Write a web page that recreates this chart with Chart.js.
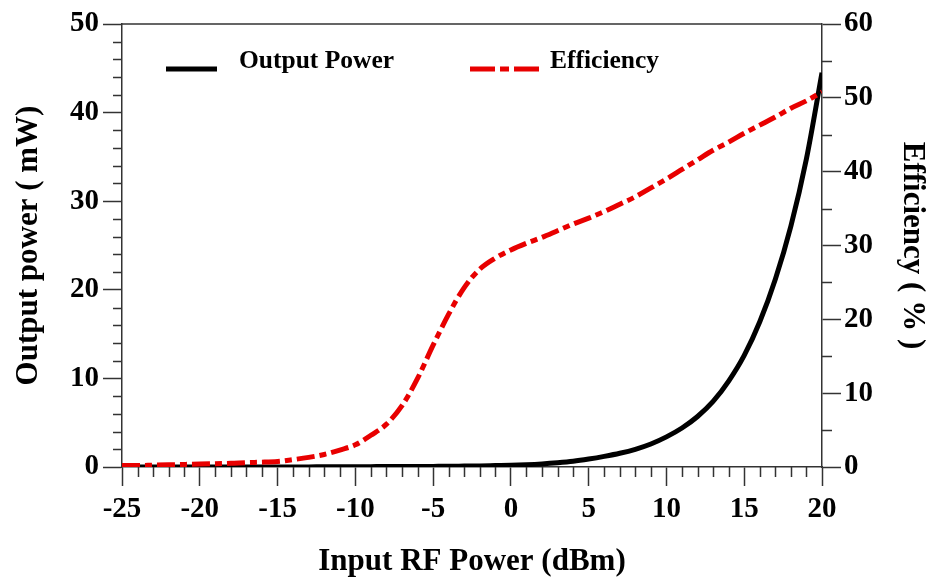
<!DOCTYPE html>
<html>
<head>
<meta charset="utf-8">
<title>Output Power / Efficiency vs Input RF Power</title>
<script src="https://cdn.jsdelivr.net/npm/chart.js@4.4.1/dist/chart.umd.min.js"></script>
<style>
  html, body { margin: 0; padding: 0; background: #fff; }
  #wrap { width: 934px; height: 577px; position: relative; }
</style>
</head>
<body>
<div id="wrap"><canvas id="powerChart"></canvas></div>
<script>
// input sweep (dBm)
const inputPower = [-25, -24, -23, -22, -21, -20, -19, -18, -17, -16, -15, -14, -13, -12, -11, -10,
  -9, -8, -7, -6, -5, -4, -3, -2, -1, 0, 1, 2, 3, 4, 5, 6, 7, 8, 9, 10,
  11, 12, 13, 14, 15, 16, 17, 18, 19, 20];

// output power (mW)
const outputPower = [0, 0, 0, 0, 0, 0, 0, 0, 0, 0, 0.01, 0.01, 0.01, 0.02, 0.02, 0.03,
  0.04, 0.05, 0.05, 0.06, 0.07, 0.08, 0.1, 0.12, 0.16, 0.2, 0.26, 0.35, 0.48, 0.65, 0.9, 1.2, 1.55, 2.0, 2.6, 3.4,
  4.4, 5.7, 7.4, 9.7, 12.6, 16.4, 21.2, 27.2, 34.8, 44.5];

// drain efficiency (%)
const efficiency = [0.2, 0.2, 0.25, 0.3, 0.35, 0.4, 0.45, 0.5, 0.6, 0.65, 0.75, 1.0, 1.3, 1.7, 2.3, 3.0,
  4.3, 5.8, 8.3, 12.0, 16.5, 20.7, 24.3, 26.8, 28.3, 29.4, 30.3, 31.1, 32.0, 32.9, 33.7, 34.6, 35.6, 36.6, 37.8, 39.0,
  40.3, 41.6, 42.9, 44.0, 45.2, 46.3, 47.4, 48.6, 49.6, 50.8];

const xTicks = [-25, 20, 5];
const powerTicks = [0, 50, 10];
const effTicks = [0, 60, 10];

const SERIF = '"Liberation Serif", "Times New Roman", serif';
const RED = 'rgb(232, 0, 0)';
const AXIS = '#333';

const toPoints = (xs, ys) => xs.map((x, i) => ({ x: x, y: ys[i] }));

// minor ticks, top frame line and the in-plot legend
const decorations = {
  id: 'decorations',
  afterDraw(chart) {
    const ctx = chart.ctx;
    const area = chart.chartArea;
    const sx = chart.scales.x, sy = chart.scales.y, sy1 = chart.scales.y1;

    ctx.save();
    ctx.strokeStyle = AXIS;
    ctx.lineWidth = 1.5;
    ctx.beginPath();
    ctx.moveTo(area.left, area.top);
    ctx.lineTo(area.right, area.top);

    for (let v = xTicks[0]; v <= xTicks[1]; v += 1) {
      if (v % xTicks[2] === 0) continue;
      const px = Math.round(sx.getPixelForValue(v)) + 0.5;
      ctx.moveTo(px, area.bottom);
      ctx.lineTo(px, area.bottom + 10);
    }
    for (let v = powerTicks[0]; v <= powerTicks[1]; v += 2) {
      if (v % powerTicks[2] === 0) continue;
      const py = Math.round(sy.getPixelForValue(v)) + 0.5;
      ctx.moveTo(area.left, py);
      ctx.lineTo(area.left - 9, py);
    }
    for (let v = effTicks[0]; v <= effTicks[1]; v += 5) {
      if (v % effTicks[2] === 0) continue;
      const py = Math.round(sy1.getPixelForValue(v)) + 0.5;
      ctx.moveTo(area.right, py);
      ctx.lineTo(area.right + 10, py);
    }
    ctx.stroke();

    // legend
    const sets = chart.data.datasets;
    ctx.font = 'bold 25.5px ' + SERIF;
    ctx.textBaseline = 'alphabetic';
    ctx.fillStyle = '#000';

    ctx.lineWidth = 5;
    ctx.strokeStyle = sets[0].borderColor;
    ctx.setLineDash([]);
    ctx.beginPath();
    ctx.moveTo(166, 69);
    ctx.lineTo(217, 69);
    ctx.stroke();
    ctx.fillText(sets[0].label, 239, 68);

    ctx.strokeStyle = sets[1].borderColor;
    ctx.setLineDash([25, 5, 9, 5]);
    ctx.beginPath();
    ctx.moveTo(470, 69);
    ctx.lineTo(539, 69);
    ctx.stroke();
    ctx.setLineDash([]);
    ctx.fillText(sets[1].label, 550, 68);
    ctx.restore();
  }
};

const tickFont = { family: SERIF, size: 29, weight: 'bold' };
const titleFont = { family: SERIF, size: 31, weight: 'bold', lineHeight: 1.0 };
const gridOpts = {
  drawOnChartArea: false,
  drawTicks: true,
  tickLength: 19,
  tickColor: AXIS,
  tickWidth: 1.5
};
const borderOpts = { display: true, color: AXIS, width: 1.5 };

new Chart(document.getElementById('powerChart'), {
  type: 'line',
  data: {
    datasets: [
      {
        label: 'Output Power',
        data: toPoints(inputPower, outputPower),
        yAxisID: 'y',
        borderColor: '#000',
        borderWidth: 5,
        pointRadius: 0,
        cubicInterpolationMode: 'monotone',
        order: 2
      },
      {
        label: 'Efficiency',
        data: toPoints(inputPower, efficiency),
        yAxisID: 'y1',
        borderColor: RED,
        borderWidth: 5,
        borderDash: [18, 5, 7, 5],
        pointRadius: 0,
        cubicInterpolationMode: 'monotone',
        order: 1
      }
    ]
  },
  options: {
    responsive: true,
    maintainAspectRatio: false,
    animation: false,
    layout: { padding: { top: 24, left: 0, right: 0, bottom: 0 } },
    plugins: {
      legend: { display: false },
      tooltip: { enabled: false }
    },
    scales: {
      x: {
        type: 'linear',
        min: xTicks[0],
        max: xTicks[1],
        grid: gridOpts,
        border: borderOpts,
        ticks: { stepSize: xTicks[2], color: '#000', font: tickFont, padding: 6, maxRotation: 0 },
        title: { display: true, text: 'Input RF Power (dBm)', color: '#000', font: titleFont, padding: { top: 0, bottom: 0 } },
        afterFit(scale) { scale.height = 110; }
      },
      y: {
        position: 'left',
        min: powerTicks[0],
        max: powerTicks[1],
        grid: gridOpts,
        border: borderOpts,
        ticks: { stepSize: powerTicks[2], color: '#000', font: tickFont, padding: 4 },
        title: { display: true, text: 'Output power ( mW)', color: '#000', font: titleFont, padding: { top: 13, bottom: 0 } },
        afterFit(scale) { scale.width = 122; }
      },
      y1: {
        position: 'right',
        min: effTicks[0],
        max: effTicks[1],
        grid: gridOpts,
        border: borderOpts,
        ticks: { stepSize: effTicks[2], color: '#000', font: tickFont, padding: 3 },
        title: { display: true, text: 'Efficiency ( % )', color: '#000', font: titleFont, padding: { top: 6, bottom: 0 } },
        afterFit(scale) { scale.width = 112; }
      }
    }
  },
  plugins: [decorations]
});
</script>
</body>
</html>
